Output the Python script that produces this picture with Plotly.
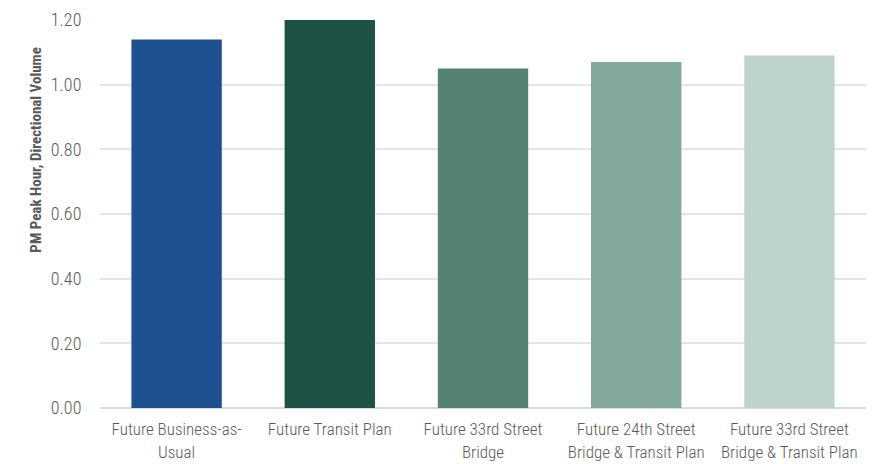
import plotly.graph_objects as go

# Scenario labels and PM peak-hour directional volume ratios
categories = [
    "Future Business-as-<br>Usual",
    "Future Transit Plan",
    "Future 33rd Street<br>Bridge",
    "Future 24th Street<br>Bridge & Transit Plan",
    "Future 33rd Street<br>Bridge & Transit Plan",
]
values = [1.14, 1.20, 1.05, 1.07, 1.09]
bar_colors = ["#1f5190", "#1e5245", "#548373", "#83a89c", "#bfd3ce"]
tick_vals = [0.0, 0.2, 0.4, 0.6, 0.8, 1.0, 1.2]

FONT = "Roboto Condensed, Liberation Sans Narrow, Arial Narrow, Roboto, sans-serif"
TEXT = "#595959"

fig = go.Figure(
    go.Bar(
        x=categories,
        y=values,
        marker=dict(color=bar_colors, line=dict(width=0)),
        hoverinfo="x+y",
    )
)

fig.update_layout(
    width=888,
    height=464,
    margin=dict(l=100, r=22, t=20, b=56),
    paper_bgcolor="white",
    plot_bgcolor="white",
    bargap=0.41,
    showlegend=False,
    font=dict(family=FONT, color=TEXT, size=17),
)

fig.update_xaxes(
    automargin=False,
    showgrid=False,
    showline=False,
    ticks="outside",
    ticklen=6,
    tickcolor="white",
    tickfont=dict(family=FONT, size=17, color=TEXT, weight=300),
)

fig.update_yaxes(
    automargin=False,
    range=[0, 1.2],
    tickvals=tick_vals,
    tickformat=".2f",
    showgrid=True,
    gridcolor="#e4e4e4",
    gridwidth=1.5,
    zeroline=True,
    zerolinecolor="#d9d9d9",
    zerolinewidth=1.5,
    showline=False,
    ticks="outside",
    ticklen=14,
    tickcolor="white",
    tickfont=dict(family=FONT, size=18, color=TEXT, weight=300),
)

# Vertical axis title
fig.add_annotation(
    text="<b>PM Peak Hour, Directional Volume</b>",
    xref="paper", yref="paper",
    x=-0.084, y=0.665,
    xanchor="center", yanchor="middle",
    textangle=-90,
    showarrow=False,
    font=dict(family=FONT, size=15, color=TEXT),
)

fig.write_html("out.html")
